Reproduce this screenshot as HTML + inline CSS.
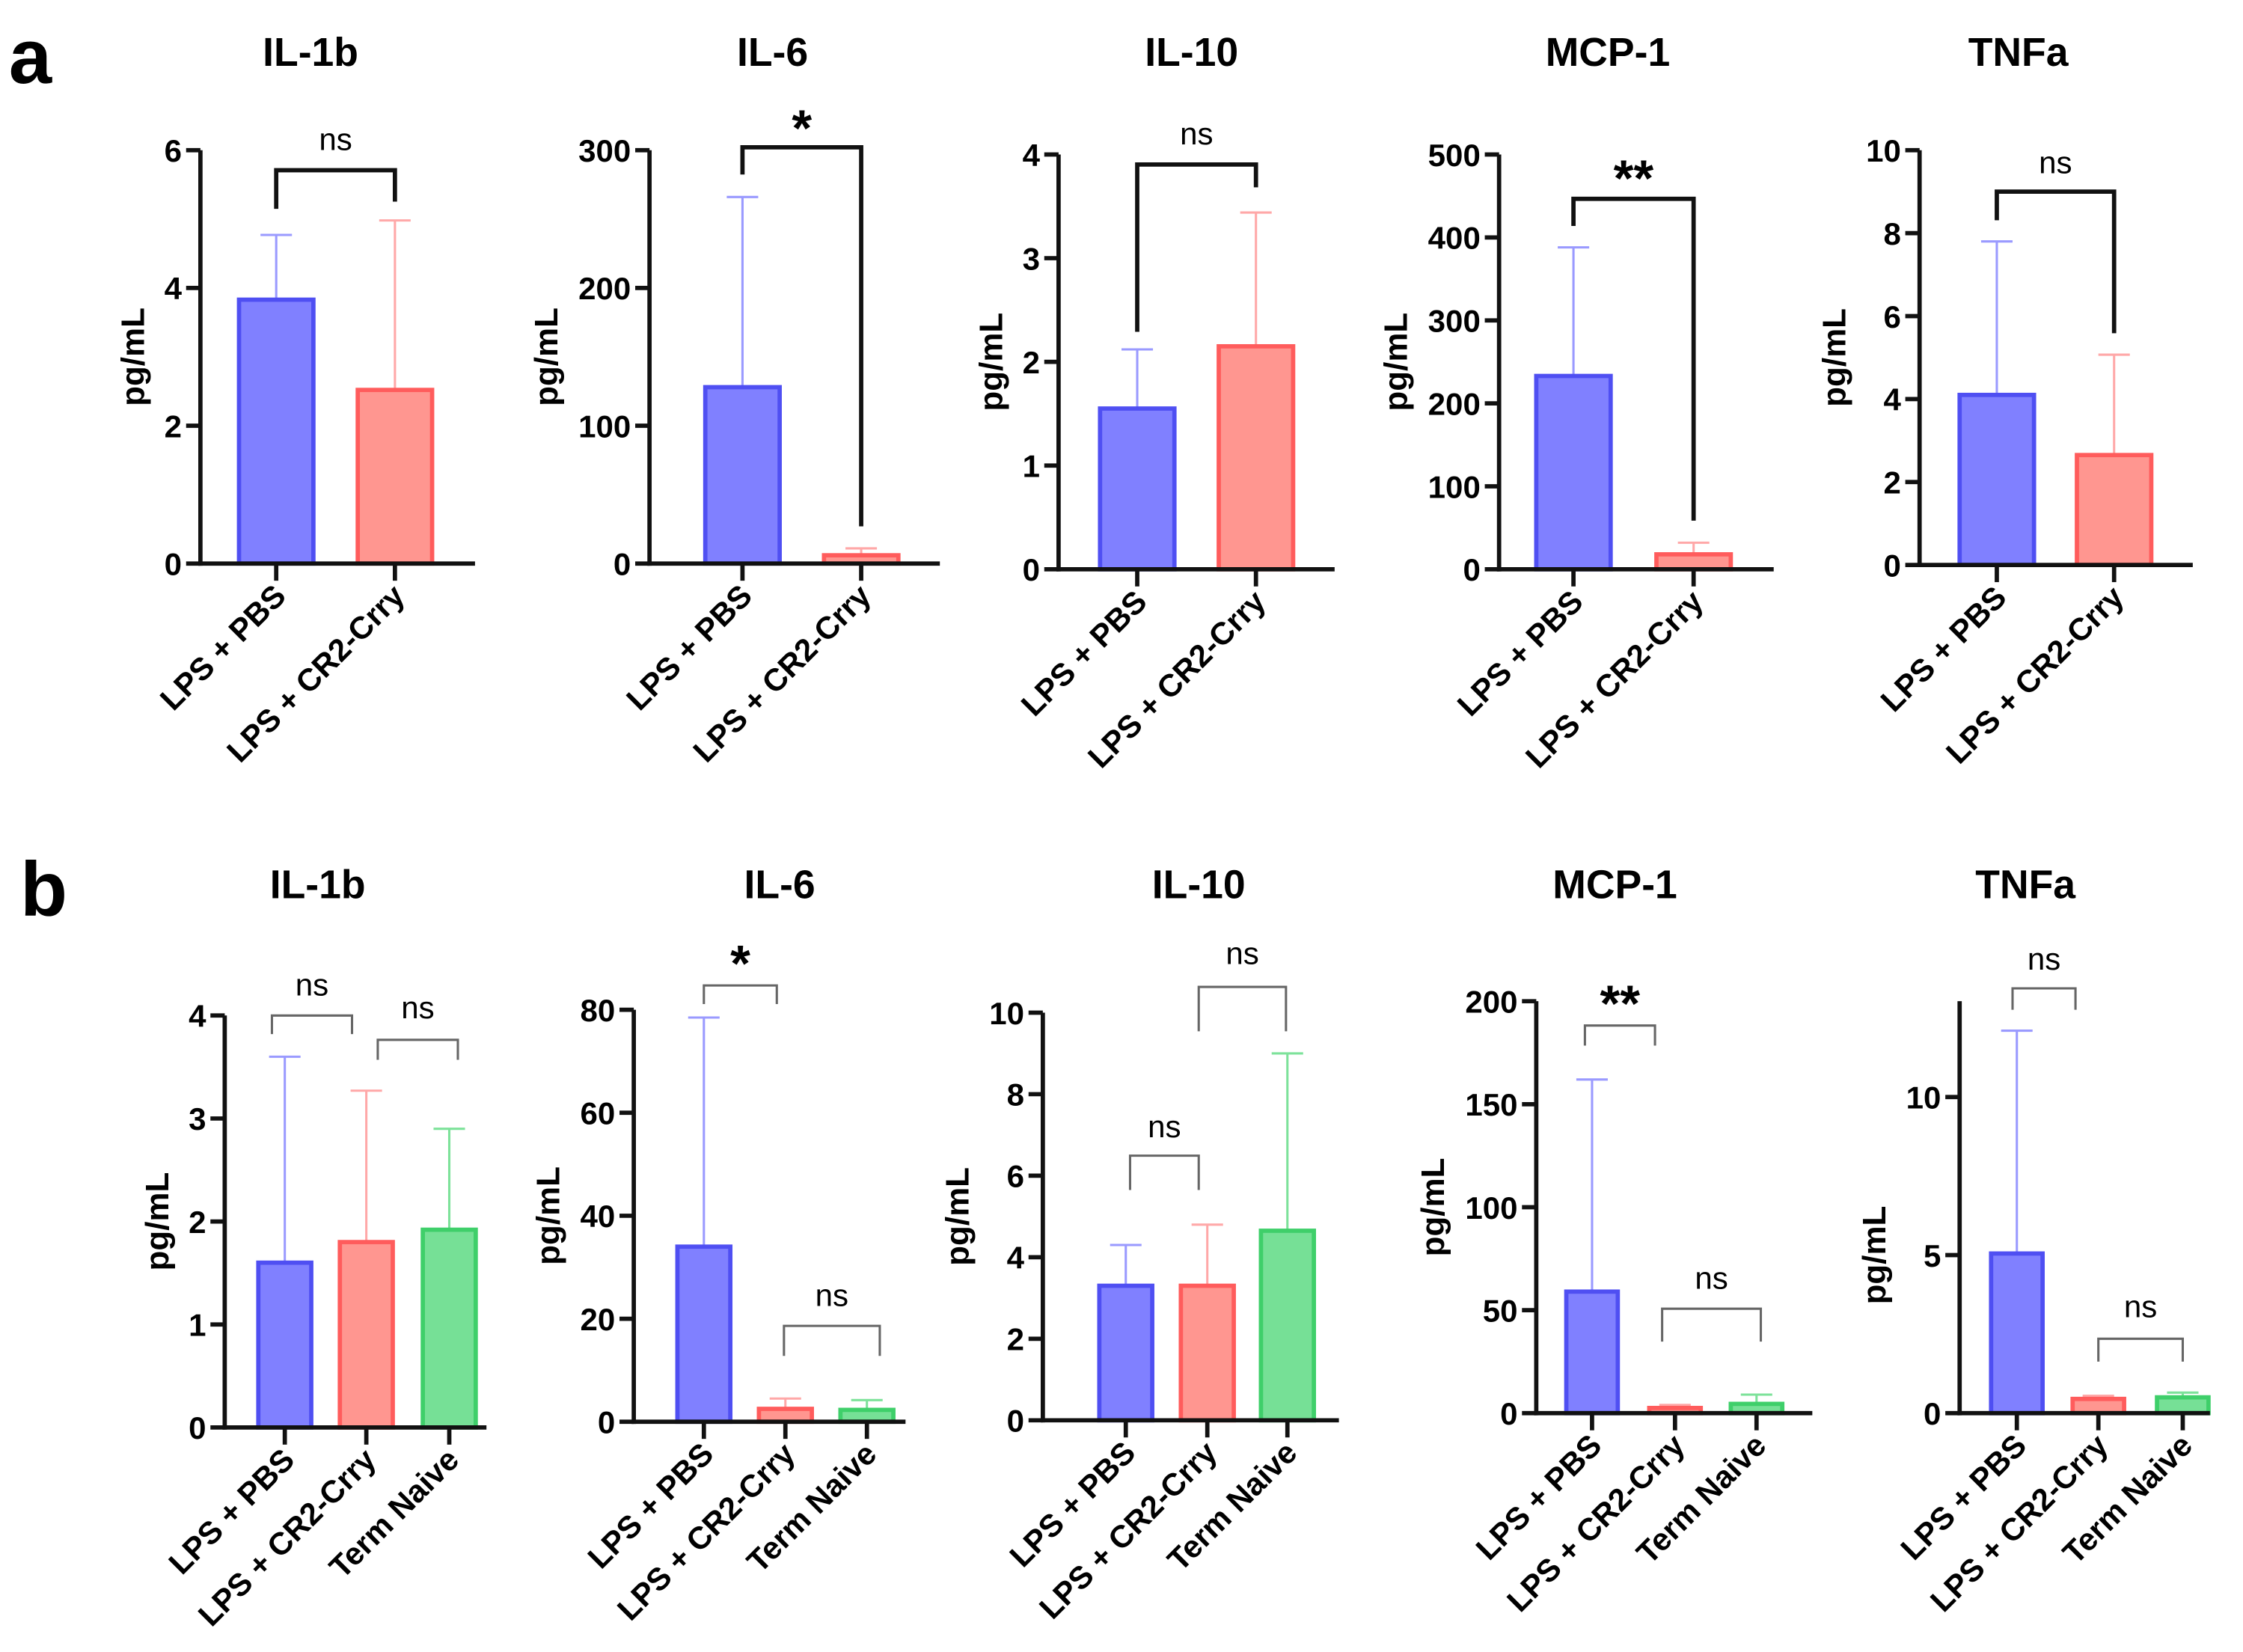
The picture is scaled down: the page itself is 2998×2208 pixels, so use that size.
<!DOCTYPE html>
<html><head><meta charset="utf-8"><style>
html,body{margin:0;padding:0;background:#fff}
svg{display:block}
text{font-family:"Liberation Sans",Arial,sans-serif}
</style></head><body>
<svg id="fig" width="2998" height="2208" viewBox="0 0 1568 1155" xmlns="http://www.w3.org/2000/svg">
<text x="6" y="58" font-size="54" font-weight="bold">a</text>
<text x="14" y="640" font-size="54" font-weight="bold">b</text>
</svg>
<script>
// ---- data ----
const panelTitles = ["IL-1b","IL-6","IL-10","MCP-1","TNFa","IL-1b","IL-6","IL-10","MCP-1","TNFa"];
const groupsA = ["LPS + PBS","LPS + CR2-Crry"];
const groupsB = ["LPS + PBS","LPS + CR2-Crry","Term Naive"];
const meansA = [[3.83,2.52],[128,6],[1.55,2.15],[233,18],[4.1,2.65]];
const errsA  = [[4.77,4.98],[266,11],[2.12,3.44],[388,32],[7.8,5.07]];
const meansB = [[1.6,1.8,1.92],[34,2.5,2.3],[3.3,3.3,4.65],[59,2.5,4.5],[5.05,0.45,0.5]];
const errsB  = [[3.6,3.27,2.9],[78.5,4.5,4.2],[4.3,4.8,9.0],[162,4,9],[12.1,0.55,0.65]];
const yMaxes = [6,300,4,500,10,4,80,10,200,10];
const yTickSteps = [2,100,1,100,2,1,20,2,50,5];
const sigLabelsA = ["ns","*","ns","**","ns"];
const sigLabelsB = [["ns","ns"],["*","ns"],["ns","ns"],["**","ns"],["ns","ns"]];

// ---- layout (not data) ----
const NS="http://www.w3.org/2000/svg";
const svg=document.getElementById('fig');
const layA=[
 {ax:140,y0:394,yt:105,xe:332,cx:[193,276],bw:52,tx:217,br:[{a:0,b:1,y:119,dl:146,dr:141,ly:97}]},
 {ax:454,y0:394,yt:105,xe:657,cx:[519,602],bw:52,tx:540,br:[{a:0,b:1,y:103,dl:122,dr:368,ly:88}]},
 {ax:740,y0:398,yt:108,xe:933,cx:[795,878],bw:52,tx:833,br:[{a:0,b:1,y:115,dl:232,dr:131,ly:93}]},
 {ax:1048,y0:398,yt:108,xe:1240,cx:[1100,1184],bw:52,tx:1124,br:[{a:0,b:1,y:139,dl:158,dr:364,ly:123}]},
 {ax:1342,y0:395,yt:105,xe:1533,cx:[1396,1478],bw:52,tx:1411,br:[{a:0,b:1,y:134,dl:154,dr:233,ly:113}]}
];
const layB=[
 {ax:157,y0:998,yt:710,xe:340,cx:[199,256,314],bw:37,tx:222,br:[{x1:190,x2:246,y:710,d:723,ly:688},{x1:264,x2:320,y:727,d:741,ly:704}]},
 {ax:443,y0:994,yt:706,xe:633,cx:[492,549,606],bw:37,tx:545,br:[{x1:492,x2:543,y:689,d:702,ly:672},{x1:548,x2:615,y:927,d:948,ly:905}]},
 {ax:729,y0:993,yt:708,xe:936,cx:[787,844,900],bw:37,tx:838,br:[{x1:790,x2:838,y:808,d:832,ly:787},{x1:838,x2:899,y:690,d:721,ly:666}]},
 {ax:1074,y0:988,yt:700,xe:1267,cx:[1113,1171,1228],bw:36,tx:1129,br:[{x1:1108,x2:1157,y:717,d:731,ly:700},{x1:1162,x2:1231,y:915,d:938,ly:893}]},
 {ax:1370,y0:988,yt:767,xe:1545,cx:[1410,1467,1526],bw:36,tx:1416,axTop:700,br:[{x1:1407,x2:1451,y:691,d:706,ly:670},{x1:1467,x2:1526,y:936,d:952,ly:913}]}
];
const fills=["#8080ff","#ff9690","#76e096"], strokes=["#4f4ff2","#ff5c5c","#3fcf6a"], errc=["#9a9aff","#ffa8a8","#7de29a"];

function el(tag,attrs,txt){const e=document.createElementNS(NS,tag);for(const k in attrs)e.setAttribute(k,attrs[k]);if(txt!==undefined)e.textContent=txt;svg.appendChild(e);return e;}

function drawPanel(idx,L,means,errs,groups,rowTitleY){
  const yMax=yMaxes[idx], step=yTickSteps[idx];
  const ys=v=>L.y0-(v/yMax)*(L.y0-L.yt);
  let t=el('text',{x:L.tx,y:rowTitleY,'font-size':28,'font-weight':'bold','text-anchor':'middle'},panelTitles[idx]);
  
  
  means.forEach((m,i)=>{
    const cx=L.cx[i];
    const e=errs[i];
    let l=el('line',{x1:cx,x2:cx,y1:ys(m),y2:ys(e),stroke:errc[i],'stroke-width':1.6});
    
    
    let c=el('line',{x1:cx-11,x2:cx+11,y1:ys(e),y2:ys(e),stroke:errc[i],'stroke-width':1.6});
    
    
    let r=el('rect',{x:cx-L.bw/2,y:ys(m),width:L.bw,height:Math.max(L.y0-ys(m),0.5),fill:fills[i],stroke:strokes[i],'stroke-width':3});
    
    
  });
  let ya=el('line',{x1:L.ax,x2:L.ax,y1:L.axTop||L.yt,y2:L.y0+1.5,stroke:'#111','stroke-width':3});
  
  
  let xa=el('line',{x1:L.ax-1.5,x2:L.xe,y1:L.y0,y2:L.y0,stroke:'#111','stroke-width':3});
  
  
  let maxChars=1;
  for(let v=0;v<=yMax+1e-9;v+=step){
    const y=ys(v);
    maxChars=Math.max(maxChars,String(v).length);
    el('line',{x1:L.ax-10,x2:L.ax,y1:y,y2:y,stroke:'#111','stroke-width':3});
    let tl=el('text',{x:L.ax-13,y:y+8,'font-size':22,'font-weight':'bold','text-anchor':'end'},String(v));
    
    
  }
  const off=13+maxChars*12.5+14;
  let yl=el('text',{x:0,y:0,'font-size':23,'font-weight':'bold','text-anchor':'middle',transform:`translate(${L.ax-off},${(L.y0+L.yt)/2}) rotate(-90)`},'pg/mL');
  
  
  groups.forEach((g,i)=>{
    const cx=L.cx[i];
    el('line',{x1:cx,x2:cx,y1:L.y0,y2:L.y0+12,stroke:'#111','stroke-width':3});
    let xl=el('text',{x:0,y:0,'font-size':22,'font-weight':'bold','text-anchor':'end',transform:`translate(${cx+8},${L.y0+24}) rotate(-45)`},g);
    
    
  });
}

meansA.forEach((m,p)=>{
  const L=layA[p];
  drawPanel(p,L,m,errsA[p],groupsA,46);
  const b=L.br[0], x1=L.cx[0], x2=L.cx[1];
  let pl=el('polyline',{points:`${x1},${b.dl} ${x1},${b.y} ${x2},${b.y} ${x2},${b.dr}`,fill:'none',stroke:'#111','stroke-width':3});
  
  
  const lab=sigLabelsA[p], star=lab.includes('*');
  let st=el('text',{x:(x1+x2)/2,y:star?b.ly+14:b.ly+8,'font-size':star?36:22,'font-weight':star?'bold':'normal','text-anchor':'middle'},lab);
  
  
});
meansB.forEach((m,p)=>{
  const L=layB[p];
  drawPanel(p+5,L,m,errsB[p],groupsB,628);
  L.br.forEach((b,k)=>{
    let pl=el('polyline',{points:`${b.x1},${b.d} ${b.x1},${b.y} ${b.x2},${b.y} ${b.x2},${b.d}`,fill:'none',stroke:'#666','stroke-width':1.6});
    
    
    const lab=sigLabelsB[p][k], star=lab.includes('*');
    let st=el('text',{x:(b.x1+b.x2)/2,y:star?b.ly+14:b.ly+8,'font-size':star?36:22,'font-weight':star?'bold':'normal','text-anchor':'middle'},lab);
    
    
  });
});
</script>
</body></html>
